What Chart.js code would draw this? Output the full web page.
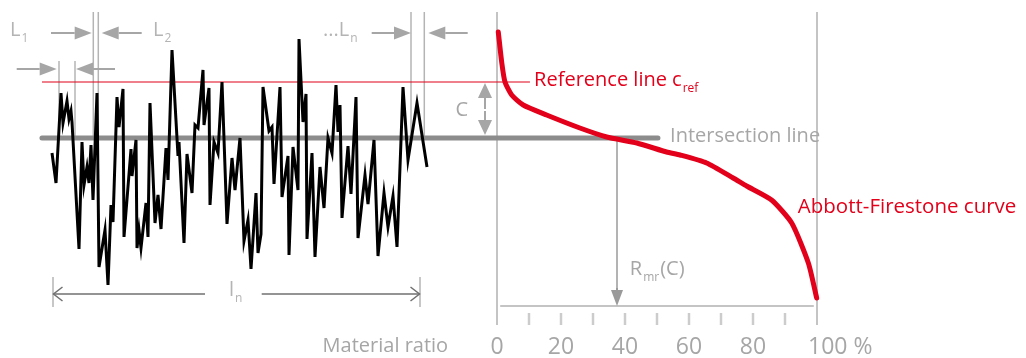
<!DOCTYPE html>
<html>
<head>
<meta charset="utf-8">
<script src="https://cdn.jsdelivr.net/npm/chart.js@4/dist/chart.umd.min.js"></script>
<style>
  body { margin: 0; background: #fff; }
  canvas { display: block; }
</style>
</head>
<body>
<canvas id="chart" width="1026" height="358"></canvas>
<script>
// roughness profile: position along l_n and height relative to the intersection line
const profilePos = [0, 4, 9, 11, 15, 17, 19, 20, 27, 30, 32, 35, 37, 39, 41, 45, 47, 53, 56, 59, 61, 65, 67, 71, 72, 79, 80, 84, 85, 87, 89, 94, 96, 98, 103, 106, 109, 114, 116, 120, 126, 127, 132, 135, 140, 143, 146, 151, 152, 157, 158, 162, 166, 170, 175, 180, 183, 188, 192, 196, 199, 204, 206, 209, 211, 217, 220, 222, 228, 230, 236, 237, 241, 246, 247, 251, 254, 255, 260, 263, 268, 272, 276, 280, 284, 286, 288, 290, 296, 299, 304, 306, 313, 316, 322, 326, 332, 336, 341, 345, 351, 356, 365, 375];
const profileHeight = [-15, -45, 45, 15, 37, 19, 27, 16, -111, -4, -47, -29, -45, -7, -62, 45, -129, -92, -147, -67, -84, 41, 11, 49, -99, -11, -38, -2, -110, -92, -110, -65, -99, 35, -85, -57, -91, -10, -42, 88, -18, -4, -105, -16, -55, 13, 10, 68, 13, 50, -67, -4, -15, 56, -86, -20, -52, 0, -103, -82, -131, -55, -115, -96, 51, 7, 11, -46, 51, -59, -18, -117, -9, -52, 99, 16, 44, -101, -15, -119, -29, -70, 0, -15, 53, 6, 33, -80, -8, -56, 41, -100, -37, -66, -2, -118, -55, -89, -58, -109, 51, -22, 35, -29];

// Abbott-Firestone curve: material ratio (%) vs height
const ratioValues = [0.4, 1.5, 2.5, 4.6, 8.2, 15.5, 25.9, 34.3, 43.7, 53, 57.2, 65.5, 73.8, 78, 85.8, 92.1, 97.3, 99.9];
const abbottHeight = [106, 75, 56, 43, 33, 23, 10, 1, -5, -14, -17, -25, -40, -48, -62, -85, -125, -160];

const ratioLabels = ["0", "20", "40", "60", "80", "100 %"];
const ratioLabelAt = [0, 20, 40, 60, 80, 100];
const ratioMinor = [10, 20, 30, 40, 50, 60, 70, 80, 90];

const cRef = 56;     // reference line c_ref
const cCut = 0;      // intersection line
const rmrC = 37.5;   // Rmr(C)

const RED = "#e2001a";
const GRAY = "#a6a6a6";
const FONT = "'Open Sans', 'Noto Sans', sans-serif";

function arrow(ctx, x1, y1, x2, y2, len, half, color) {
  const a = Math.atan2(y2 - y1, x2 - x1);
  const bx = x2 - len * Math.cos(a), by = y2 - len * Math.sin(a);
  ctx.strokeStyle = color;
  ctx.fillStyle = color;
  ctx.lineWidth = 2;
  ctx.beginPath(); ctx.moveTo(x1, y1); ctx.lineTo(bx, by); ctx.stroke();
  ctx.beginPath();
  ctx.moveTo(x2, y2);
  ctx.lineTo(bx + half * Math.sin(a), by - half * Math.cos(a));
  ctx.lineTo(bx - half * Math.sin(a), by + half * Math.cos(a));
  ctx.closePath(); ctx.fill();
}

function openArrow(ctx, x1, y, x2, color) {
  const d = x2 > x1 ? 1 : -1;
  ctx.strokeStyle = color;
  ctx.lineWidth = 1.5;
  ctx.beginPath(); ctx.moveTo(x1, y); ctx.lineTo(x2, y); ctx.stroke();
  ctx.beginPath();
  ctx.moveTo(x2 - d * 9, y - 7); ctx.lineTo(x2, y); ctx.lineTo(x2 - d * 9, y + 7);
  ctx.stroke();
}

function vline(ctx, x, y1, y2, color, w) {
  ctx.strokeStyle = color;
  ctx.lineWidth = w;
  ctx.beginPath(); ctx.moveTo(x, y1); ctx.lineTo(x, y2); ctx.stroke();
}

function label(ctx, text, sub, x, y, color, size, align) {
  ctx.fillStyle = color;
  ctx.textBaseline = "middle";
  ctx.textAlign = "left";
  ctx.font = size + "px " + FONT;
  const w = ctx.measureText(text).width;
  let x0 = x;
  if (align === "center") x0 = x - w / 2;
  ctx.fillText(text, x0, y);
  if (sub) {
    ctx.font = Math.round(size * 0.6) + "px " + FONT;
    ctx.fillText(sub[0], x0 + w + 1, y + size * 0.42);
    if (sub[1]) {
      const sw = ctx.measureText(sub[0]).width;
      ctx.font = size + "px " + FONT;
      ctx.fillText(sub[1], x0 + w + 1 + sw + 1, y);
    }
  }
}

const annotations = {
  id: "annotations",
  beforeDatasetsDraw(chart) {
    const ctx = chart.ctx;
    const X = v => chart.scales.x.getPixelForValue(v);
    const M = v => chart.scales.mr.getPixelForValue(v);
    const Y = v => chart.scales.y.getPixelForValue(v);
    ctx.save();

    // sampling lengths L1, L2 ... Ln
    [41.3, 46.3, 359, 372.3].forEach(s => vline(ctx, X(s), Y(126), Y(cCut), "#b4b4b4", 1.5));
    [7, 23].forEach(s => vline(ctx, X(s), Y(77), Y(cCut), "#b4b4b4", 1.5));
    arrow(ctx, X(-1), Y(105), X(39.7), Y(105), 17, 6.5, GRAY);
    arrow(ctx, X(89.7), Y(105), X(49.7), Y(105), 17, 6.5, GRAY);
    arrow(ctx, X(-35.3), Y(69), X(4.7), Y(69), 17, 6.5, GRAY);
    arrow(ctx, X(63), Y(69), X(24), Y(69), 17, 6.5, GRAY);
    arrow(ctx, X(319.7), Y(105), X(359), Y(105), 17, 6.5, GRAY);
    arrow(ctx, X(415.7), Y(105), X(376.3), Y(105), 17, 6.5, GRAY);
    label(ctx, "L", ["1"], X(-42), Y(108), "#b4b4b4", 20);
    label(ctx, "L", ["2"], X(101), Y(108), "#b4b4b4", 20);
    label(ctx, "...L", ["n"], X(271), Y(108), "#b4b4b4", 20);

    // evaluation length ln
    vline(ctx, X(1), Y(-139), Y(-169), "#b4b4b4", 1.5);
    vline(ctx, X(368), Y(-139), Y(-169), "#b4b4b4", 1.5);
    openArrow(ctx, X(153), Y(-156), X(1.5), "#707070");
    openArrow(ctx, X(209.7), Y(-156), X(367.5), "#707070");
    label(ctx, "l", ["n"], X(177), Y(-152), "#b4b4b4", 20);

    // distance C between reference and intersection line
    arrow(ctx, M(-3.75), Y(cRef - 27), M(-3.75), Y(cRef - 1), 15, 7, GRAY);
    arrow(ctx, M(-3.75), Y(cCut + 27), M(-3.75), Y(cCut + 3), 15, 7, GRAY);
    label(ctx, "C", null, M(-11), Y(28), GRAY, 20, "center");

    // material ratio axis
    vline(ctx, M(0), Y(126), Y(-187), "#b0b0b0", 1.5);
    vline(ctx, M(100), Y(126), Y(-187), "#b0b0b0", 1.5);
    ctx.strokeStyle = "#b0b0b0";
    ctx.lineWidth = 1.5;
    ctx.beginPath(); ctx.moveTo(M(1), Y(-168)); ctx.lineTo(M(99), Y(-168)); ctx.stroke();
    ratioMinor.forEach(v => vline(ctx, M(v), Y(-175), Y(-187), "#cccccc", 2.5));
    ratioLabels.forEach((t, i) => {
      if (i === ratioLabels.length - 1) label(ctx, t, null, M(ratioLabelAt[i]) - 9, Y(-209), GRAY, 23);
      else label(ctx, t, null, M(ratioLabelAt[i]), Y(-209), GRAY, 23, "center");
    });
    label(ctx, "Material ratio", null, M(-54.5), Y(-208), GRAY, 20);

    // Rmr(C)
    vline(ctx, M(rmrC), Y(cCut), Y(-155), "#9a9a9a", 1.5);
    arrow(ctx, M(rmrC), Y(-150), M(rmrC), Y(-168), 16, 6, "#9a9a9a");
    label(ctx, "R", ["mr", "(C)"], M(41.5), Y(-131), GRAY, 20);

    // curve and line labels
    label(ctx, "Reference line c", ["ref"], M(11.6), Y(58), RED, 20);
    label(ctx, "Intersection line", null, M(54.1), Y(2), GRAY, 20);
    label(ctx, "Abbott-Firestone curve", null, M(94), Y(-69), RED, 20.5);
    ctx.restore();
  }
};

new Chart(document.getElementById("chart"), {
  type: "scatter",
  data: {
    datasets: [
      {
        label: "Profile",
        data: profilePos.map((p, i) => ({ x: p, y: profileHeight[i] })),
        xAxisID: "x",
        showLine: true,
        borderColor: "#000",
        borderWidth: 3,
        pointRadius: 0,
        order: 0
      },
      {
        label: "Abbott-Firestone curve",
        data: ratioValues.map((r, i) => ({ x: r, y: abbottHeight[i] })),
        xAxisID: "mr",
        showLine: true,
        borderColor: RED,
        borderWidth: 5,
        borderCapStyle: "round",
        borderJoinStyle: "round",
        tension: 0.2,
        pointRadius: 0,
        order: 1
      },
      {
        label: "Reference line",
        data: [{ x: -142.2, y: cRef }, { x: 10.3, y: cRef }],
        xAxisID: "mr",
        showLine: true,
        borderColor: RED,
        borderWidth: 1.2,
        pointRadius: 0,
        order: 2
      },
      {
        label: "Intersection line",
        data: [{ x: -142.2, y: cCut }, { x: 50.3, y: cCut }],
        xAxisID: "mr",
        showLine: true,
        borderColor: "#8c8c8c",
        borderWidth: 5,
        borderCapStyle: "round",
        pointRadius: 0,
        order: 3
      }
    ]
  },
  options: {
    responsive: false,
    animation: false,
    devicePixelRatio: 1,
    layout: { padding: 0 },
    plugins: { legend: { display: false }, tooltip: { enabled: false } },
    scales: {
      x: { type: "linear", display: false, min: -52, max: 974 },
      mr: { type: "linear", display: false, min: -155.3125, max: 165.3125 },
      y: { type: "linear", display: false, min: -220, max: 138 }
    }
  },
  plugins: [annotations]
});
</script>
</body>
</html>
